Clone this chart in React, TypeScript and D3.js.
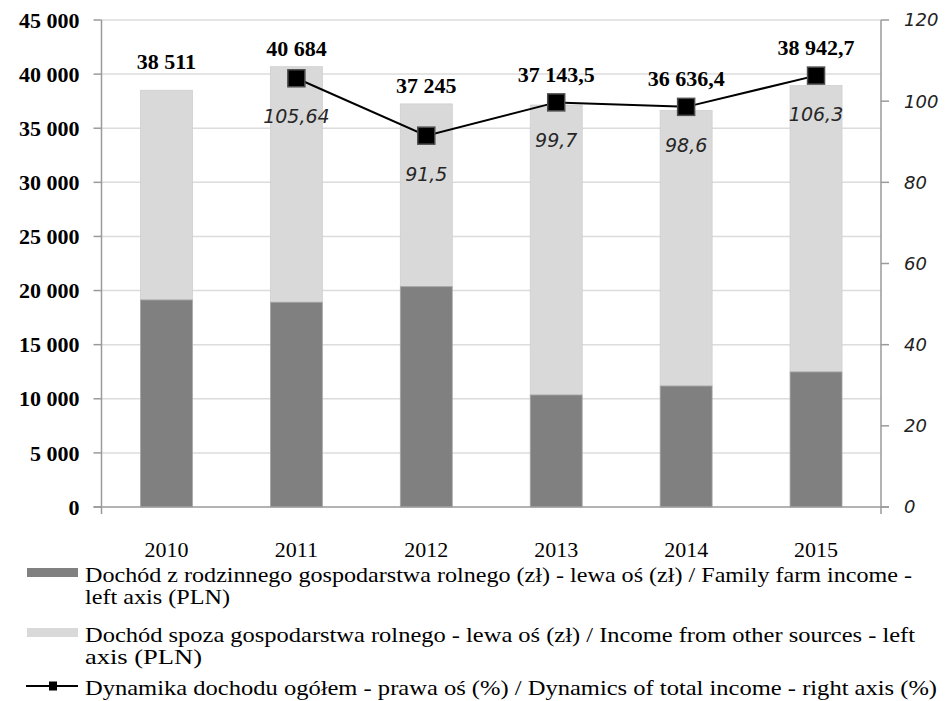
import * as d3 from "d3";
import React, { useEffect, useRef } from "react";

// values
const years: string[] = ["2010", "2011", "2012", "2013", "2014", "2015"];
const farmIncome: number[] = [19130, 18920, 20360, 10350, 11180, 12480];
const totalIncome: number[] = [38511, 40684, 37245, 37143.5, 36636.4, 38942.7];
const dynamics: (number | null)[] = [null, 105.64, 91.5, 99.7, 98.6, 106.3];
const leftTicks: number[] = [0, 5000, 10000, 15000, 20000, 25000, 30000, 35000, 40000, 45000];
const rightTicks: number[] = [0, 20, 40, 60, 80, 100, 120];
const legendLines: string[][] = [
	["Dochód z rodzinnego gospodarstwa rolnego (zł) - lewa oś (zł) / Family farm income -", "left axis (PLN)"],
	["Dochód spoza gospodarstwa rolnego - lewa oś (zł) / Income from other sources - left", "axis (PLN)"],
	["Dynamika dochodu ogółem - prawa oś (%) / Dynamics of total income - right axis (%)"],
];

const DARK = "#808080";
const LIGHT = "#d9d9d9";
const SERIF = "'Liberation Serif', 'Times New Roman', serif";
const SANS = "'DejaVu Sans', Verdana, sans-serif";

const plLocale = d3.formatLocale({
	decimal: ",",
	thousands: " ",
	grouping: [3],
	currency: ["", ""],
});
const fmtInt = plLocale.format(",d");
const fmtOne = plLocale.format(",.1f");
const fmtTotal = (v: number) => (Number.isInteger(v) ? fmtInt(v) : fmtOne(v));
const fmtPct = (v: number) => String(v).replace(".", ",");

const App = () => {
	const ref = useRef<SVGSVGElement>(null);

	useEffect(() => {
		const width = 947;
		const height = 701;
		const left = 101.5;
		const right = 881;
		const top = 20;
		const bottom = 507;

		const svg = d3.select(ref.current);
		svg.selectAll("*").remove();

		const x = d3
			.scaleBand<string>()
			.domain(years)
			.range([left, right])
			.paddingInner(0.6)
			.paddingOuter(0.3);
		const y = d3.scaleLinear().domain([0, 45000]).range([bottom, top]);
		const y2 = d3.scaleLinear().domain([0, 120]).range([bottom, top]);

		// gridlines
		svg.append("g")
			.selectAll("line")
			.data(leftTicks.filter((t) => t > 0))
			.join("line")
			.attr("x1", left)
			.attr("x2", right)
			.attr("y1", (d) => y(d))
			.attr("y2", (d) => y(d))
			.attr("stroke", "#dcdcdc")
			.attr("stroke-width", 1.5);

		// stacked bars
		const bars = svg.append("g");
		years.forEach((yr, i) => {
			const x0 = x(yr) as number;
			bars.append("rect")
				.attr("x", x0)
				.attr("width", x.bandwidth())
				.attr("y", y(totalIncome[i]))
				.attr("height", y(farmIncome[i]) - y(totalIncome[i]))
				.attr("fill", LIGHT)
				.attr("stroke", "#cfcfcf")
				.attr("stroke-width", 0.8);
			bars.append("rect")
				.attr("x", x0)
				.attr("width", x.bandwidth())
				.attr("y", y(farmIncome[i]))
				.attr("height", bottom - y(farmIncome[i]))
				.attr("fill", DARK)
				.attr("stroke", "#a6a6a6")
				.attr("stroke-width", 0.8);
		});

		// axes
		const axisColor = "#9a9a9a";
		const ax = svg.append("g").attr("stroke", axisColor).attr("stroke-width", 1.5);
		ax.append("line").attr("x1", left).attr("x2", left).attr("y1", top).attr("y2", bottom + 7);
		ax.append("line").attr("x1", right).attr("x2", right).attr("y1", top).attr("y2", bottom + 7);
		ax.append("line").attr("x1", left - 8).attr("x2", right + 8).attr("y1", bottom).attr("y2", bottom);
		ax.selectAll(".lt")
			.data(leftTicks)
			.join("line")
			.attr("x1", left - 8)
			.attr("x2", left)
			.attr("y1", (d) => y(d))
			.attr("y2", (d) => y(d));
		ax.selectAll(".rt")
			.data(rightTicks)
			.join("line")
			.attr("x1", right)
			.attr("x2", right + 8)
			.attr("y1", (d) => y2(d))
			.attr("y2", (d) => y2(d));

		svg.append("g")
			.selectAll("text")
			.data(leftTicks)
			.join("text")
			.attr("x", left - 22)
			.attr("y", (d) => y(d))
			.attr("dy", "0.35em")
			.attr("text-anchor", "end")
			.attr("font-family", SERIF)
			.attr("font-weight", "bold")
			.attr("font-size", 22)
			.attr("fill", "#000")
			.text((d) => fmtInt(d));

		svg.append("g")
			.selectAll("text")
			.data(rightTicks)
			.join("text")
			.attr("x", right + 23)
			.attr("y", (d) => y2(d))
			.attr("dy", "0.36em")
			.attr("font-family", SANS)
			.attr("font-style", "italic")
			.attr("font-size", 18)
			.attr("fill", "#222")
			.text((d) => String(d));

		// category labels
		svg.append("g")
			.selectAll("text")
			.data(years)
			.join("text")
			.attr("x", (d) => (x(d) as number) + x.bandwidth() / 2)
			.attr("y", 557)
			.attr("text-anchor", "middle")
			.attr("font-family", SERIF)
			.attr("font-size", 22)
			.attr("fill", "#000")
			.text((d) => d);

		// dynamics line
		const pts = years
			.map((yr, i) => ({ yr, v: dynamics[i] }))
			.filter((p) => p.v !== null) as { yr: string; v: number }[];
		const cx = (yr: string) => (x(yr) as number) + x.bandwidth() / 2;
		svg.append("path")
			.datum(pts)
			.attr("fill", "none")
			.attr("stroke", "#000")
			.attr("stroke-width", 2)
			.attr(
				"d",
				d3
					.line<{ yr: string; v: number }>()
					.x((d) => cx(d.yr))
					.y((d) => y2(d.v))
			);
		const ms = 17;
		svg.append("g")
			.selectAll("rect")
			.data(pts)
			.join("rect")
			.attr("x", (d) => cx(d.yr) - ms / 2)
			.attr("y", (d) => y2(d.v) - ms / 2)
			.attr("width", ms)
			.attr("height", ms)
			.attr("fill", "#000")
			.attr("stroke", "#4d4d4d")
			.attr("stroke-width", 1.5);

		svg.append("g")
			.selectAll("text")
			.data(pts)
			.join("text")
			.attr("x", (d) => cx(d.yr))
			.attr("y", (d) => y2(d.v) + 45)
			.attr("text-anchor", "middle")
			.attr("font-family", SANS)
			.attr("font-style", "italic")
			.attr("font-size", 19)
			.attr("fill", "#262626")
			.text((d) => fmtPct(d.v));

		// total labels, above bar or marker, whichever is higher
		svg.append("g")
			.selectAll("text")
			.data(years)
			.join("text")
			.attr("x", (d) => cx(d))
			.attr("y", (d, i) => {
				const barTop = y(totalIncome[i]);
				const v = dynamics[i];
				const mTop = v === null ? barTop - 10 : y2(v) - ms / 2 - 1;
				return Math.min(barTop, mTop) - 11;
			})
			.attr("text-anchor", "middle")
			.attr("font-family", SERIF)
			.attr("font-weight", "bold")
			.attr("font-size", 22)
			.attr("fill", "#000")
			.text((d, i) => fmtTotal(totalIncome[i]));

		// legend
		const lg = svg.append("g");
		const itemY = [568, 628, 686];
		lg.append("rect").attr("x", 27).attr("y", itemY[0]).attr("width", 51).attr("height", 9).attr("fill", DARK);
		lg.append("rect").attr("x", 27).attr("y", itemY[1]).attr("width", 51).attr("height", 9).attr("fill", LIGHT);
		lg.append("line")
			.attr("x1", 26)
			.attr("x2", 78)
			.attr("y1", itemY[2])
			.attr("y2", itemY[2])
			.attr("stroke", "#000")
			.attr("stroke-width", 2);
		lg.append("rect")
			.attr("x", 49)
			.attr("y", itemY[2] - 4.5)
			.attr("width", 8)
			.attr("height", 9)
			.attr("fill", "#000");
		const baselines = [
			[582, 604],
			[642, 664],
			[695],
		];
		const lineWidths = [
			[827, 145],
			[830, 117],
			[852],
		];
		legendLines.forEach((lines, i) => {
			lines.forEach((ln, j) => {
				lg.append("text")
					.attr("x", 85)
					.attr("y", baselines[i][j])
					.attr("font-family", SERIF)
					.attr("font-size", 21)
					.attr("textLength", lineWidths[i][j])
					.attr("lengthAdjust", "spacingAndGlyphs")
					.attr("fill", "#000")
					.text(ln);
			});
		});

		svg.attr("width", width).attr("height", height);
	}, []);

	return (
		<svg
			ref={ref}
			width={947}
			height={701}
			style={{ position: "absolute", left: 0, top: 0, background: "#fff" }}
		/>
	);
};

export default App;
